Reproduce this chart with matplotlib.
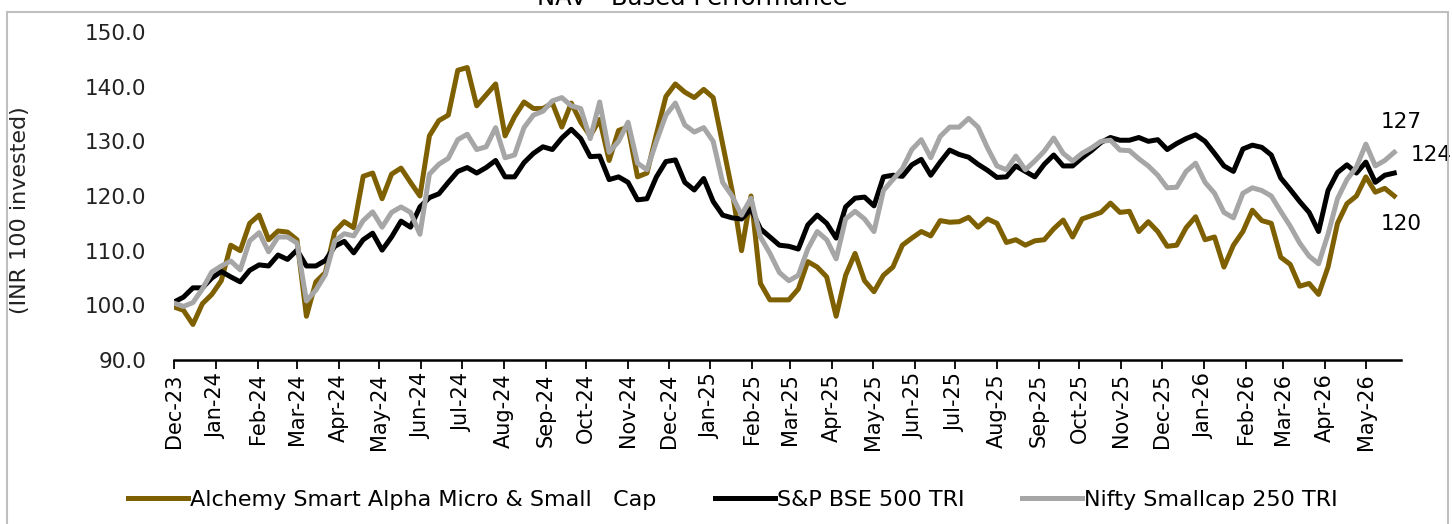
import matplotlib
matplotlib.use("Agg")
import matplotlib.pyplot as plt
import matplotlib.dates as mdates
from matplotlib.patches import Rectangle
import pandas as pd

# weekly readings from 1 Dec 2023 (INR 100 invested)
alchemy = [
    99.7, 99.1, 96.5, 100.3, 102.0, 104.5, 111.0, 110.0, 115.0, 116.5,
    112.0, 113.6, 113.4, 112.0, 98.0, 104.3, 106.0, 113.5, 115.3, 114.2,
    123.6, 124.2, 119.5, 124.0, 125.1, 122.5, 120.0, 131.0, 133.8, 134.8,
    143.0, 143.5, 136.5, 138.5, 140.5, 131.0, 134.5, 137.2, 136.0, 136.0,
    137.0, 132.6, 137.0, 133.5, 131.0, 134.0, 126.5, 132.0, 132.6, 123.5,
    124.2, 131.3, 138.2, 140.5, 139.0, 138.0, 139.5, 138.0, 129.5, 121.0,
    110.0, 120.0, 104.0, 101.0, 101.0, 101.0, 103.0, 108.0, 107.0, 105.2,
    98.0, 105.5, 109.5, 104.5, 102.5, 105.5, 107.0, 111.0, 112.3, 113.5,
    112.7, 115.5, 115.2, 115.3, 116.1, 114.3, 115.8, 115.0, 111.5, 112.0,
    111.0, 111.8, 112.0, 114.0, 115.6, 112.5, 115.8, 116.4, 117.0, 118.7,
    117.0, 117.2, 113.5, 115.3, 113.5, 110.8, 111.0, 114.2, 116.2, 112.0,
    112.5, 107.0, 111.0, 113.5, 117.4, 115.5, 115.0, 108.8, 107.5, 103.5,
    104.0, 102.0, 107.0, 115.0, 118.6, 120.0, 123.5, 120.7, 121.4, 120.0,
]
bse500 = [
    100.6, 101.5, 103.2, 103.2, 105.0, 106.2, 105.2, 104.3, 106.4, 107.4,
    107.2, 109.2, 108.4, 110.1, 107.2, 107.2, 108.2, 110.8, 111.7, 109.6,
    112.0, 113.2, 110.1, 112.5, 115.4, 114.3, 118.0, 119.7, 120.4, 122.5,
    124.5, 125.2, 124.2, 125.2, 126.5, 123.5, 123.5, 126.1, 127.8, 129.0,
    128.5, 130.6, 132.2, 130.5, 127.2, 127.3, 123.0, 123.5, 122.5, 119.3,
    119.5, 123.5, 126.3, 126.6, 122.5, 121.1, 123.2, 119.0, 116.5, 116.0,
    115.8, 117.6, 114.0, 112.5, 111.0, 110.8, 110.3, 114.7, 116.5, 115.0,
    112.3, 118.0, 119.6, 119.8, 118.2, 123.5, 123.8, 123.6, 125.7, 126.7,
    123.8, 126.2, 128.4, 127.6, 127.1, 125.8, 124.7, 123.4, 123.5, 125.5,
    124.5, 123.5, 125.8, 127.5, 125.5, 125.5, 127.0, 128.3, 129.8, 130.7,
    130.2, 130.2, 130.7, 130.0, 130.3, 128.5, 129.6, 130.5, 131.2, 130.0,
    127.8, 125.5, 124.5, 128.6, 129.3, 128.9, 127.5, 123.3, 121.2, 119.0,
    117.0, 113.5, 121.0, 124.3, 125.7, 124.2, 126.2, 122.5, 123.8, 124.2,
]
smallcap250 = [
    100.4, 99.8, 100.5, 103.0, 106.1, 107.2, 108.1, 106.5, 111.8, 113.3,
    109.8, 112.5, 112.5, 111.4, 100.8, 102.8, 105.6, 111.8, 113.1, 112.7,
    115.5, 117.1, 114.3, 117.0, 118.0, 117.0, 113.0, 124.0, 125.8, 126.9,
    130.3, 131.3, 128.5, 129.0, 132.5, 127.0, 127.5, 132.5, 134.8, 135.5,
    137.4, 138.0, 136.5, 136.0, 130.5, 137.2, 128.0, 130.0, 133.5, 126.0,
    124.8, 130.0, 134.8, 137.0, 133.0, 131.7, 132.5, 130.0, 122.5, 120.0,
    116.5, 119.6, 112.5, 109.5, 106.0, 104.5, 105.5, 110.3, 113.5, 112.0,
    108.5, 115.8, 117.2, 115.8, 113.5, 121.0, 123.0, 125.0, 128.5, 130.3,
    127.0, 130.9, 132.6, 132.6, 134.2, 132.6, 128.8, 125.5, 124.8, 127.3,
    124.8, 126.4, 128.2, 130.6, 127.8, 126.4, 127.8, 128.8, 130.0, 130.2,
    128.4, 128.3, 126.8, 125.5, 123.8, 121.5, 121.6, 124.5, 126.0, 122.5,
    120.5, 117.0, 116.0, 120.5, 121.5, 121.0, 120.0, 117.2, 114.5, 111.4,
    109.0, 107.6, 113.0, 119.5, 123.0, 125.3, 129.5, 125.5, 126.5, 128.0,
]
series_names = ["Alchemy Smart Alpha Micro & Small   Cap", "S&P BSE 500 TRI", "Nifty Smallcap 250 TRI"]
end_labels = ["120", "124", "127"]

dates = pd.date_range("2023-12-01", periods=len(alchemy), freq="7D")

colors = ["#7F6000", "#000000", "#A6A6A6"]
label_offsets = [(5, -20), (27, 13), (5, 22)]

plt.rcParams["font.family"] = ["DejaVu Sans"]

fig = plt.figure(figsize=(14.52, 5.24), dpi=100)
ax = fig.add_axes([174 / 1452, 1 - 360 / 524, (1401 - 174) / 1452, (360 - 32) / 524])

lines = []
for values, name, color in zip([alchemy, bse500, smallcap250], series_names, colors):
    ln, = ax.plot(dates, values, color=color, lw=3.6, label=name, solid_joinstyle="round")
    lines.append(ln)

# end-value labels
for values, txt, off in zip([alchemy, bse500, smallcap250], end_labels, label_offsets):
    ax.annotate(txt, xy=(dates[-1], values[-1]), xytext=off, textcoords="offset points",
                ha="center", va="center", fontsize=15.5, annotation_clip=False)

ax.set_ylim(90, 150)
ax.set_yticks([90, 100, 110, 120, 130, 140, 150])
ax.yaxis.set_major_formatter(plt.FuncFormatter(lambda v, p: f"{v:.1f}"))
ax.set_xlim(pd.Timestamp("2023-12-01"), pd.Timestamp("2026-05-27"))
ax.xaxis.set_major_locator(mdates.MonthLocator())
ax.xaxis.set_major_formatter(mdates.DateFormatter("%b-%y"))

for s in ["top", "right", "left"]:
    ax.spines[s].set_visible(False)
ax.spines["bottom"].set_linewidth(1.8)
ax.tick_params(axis="y", length=0, pad=20, labelsize=15.5, colors="#222222")
ax.tick_params(axis="x", direction="out", length=6.5, width=1.3, pad=3,
               labelsize=15, labelrotation=90)
ax.set_ylabel("(INR 100 invested)", fontsize=16, color="#222222")
ax.yaxis.set_label_coords(-0.117, 0.457)

fig.text(692 / 1452, 1 - 5 / 524, "NAV - Based Performance", ha="center", va="baseline",
         fontsize=17.5)

fig.legend(handles=lines, loc="center", bbox_to_anchor=(733 / 1452, 1 - 500 / 524), ncol=3,
           frameon=False, fontsize=16, handlelength=2.7, handletextpad=0.1,
           columnspacing=2.6)

fig.patches.append(Rectangle((7 / 1452, -0.02), (1448 - 7) / 1452, 1.02 - 12 / 524,
                             transform=fig.transFigure, fill=False, ec="#BFBFBF", lw=1.5))

fig.savefig("out.png", dpi=100)
